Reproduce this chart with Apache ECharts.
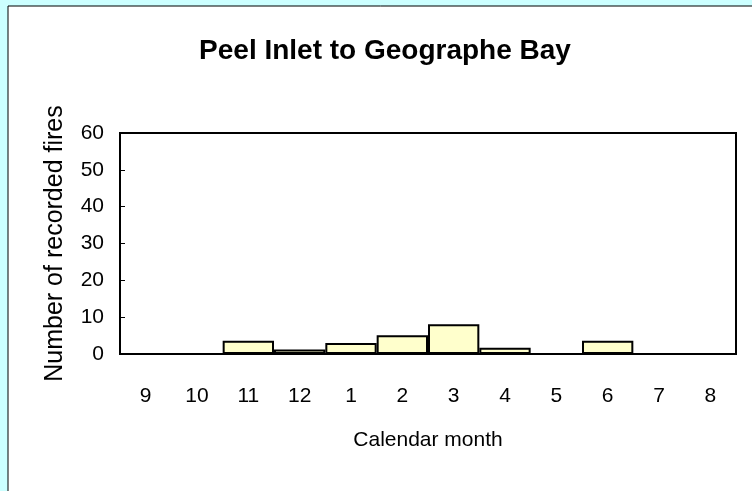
<!DOCTYPE html>
<html>
<head>
<meta charset="utf-8">
<script src="https://cdn.jsdelivr.net/npm/echarts@6/dist/echarts.min.js"></script>
<style>
html,body{margin:0;padding:0;background:#ccffff;}
#main{width:752px;height:491px;}
</style>
</head>
<body>
<div id="main"></div>
<script>
var months = ['9', '10', '11', '12', '1', '2', '3', '4', '5', '6', '7', '8']; // 月份
var fires = [0, 0, 3.6, 1.2, 3, 5.1, 8.1, 1.7, 0, 3.6, 0, 0]; // 火灾次数
var yTicks = [0, 60, 10]; // min, max, interval

var myChart = echarts.init(document.getElementById('main'));
var font = "'Liberation Sans', Arial, sans-serif";

var option = {
    backgroundColor: '#ccffff',
    animation: false,
    textStyle: {fontFamily: font},
    graphic: [{
        type: 'rect',
        z: -10,
        shape: {x: 8, y: 6, width: 800, height: 600},
        style: {fill: '#fff', stroke: '#000', lineWidth: 1}
    }],
    title: {
        text: 'Peel Inlet to Geographe Bay',
        left: 380,
        textAlign: 'center',
        top: 32,
        textStyle: {fontSize: 28, fontWeight: 'bold', color: '#000', fontFamily: font}
    },
    grid: {
        left: 120,
        right: 16,
        top: 133,
        bottom: 137,
        show: true,
        borderColor: '#000',
        borderWidth: 2,
        backgroundColor: '#fff'
    },
    xAxis: {
        type: 'category',
        data: months,
        name: 'Calendar month',
        nameLocation: 'middle',
        nameGap: 76,
        nameTextStyle: {fontSize: 21, color: '#000'},
        axisLine: {lineStyle: {color: '#000', width: 2}},
        axisTick: {length: 7, lineStyle: {color: '#000'}},
        axisLabel: {fontSize: 21, color: '#000', margin: 32}
    },
    yAxis: {
        type: 'value',
        min: yTicks[0],
        max: yTicks[1],
        interval: yTicks[2],
        name: 'Number of recorded fires',
        nameLocation: 'middle',
        nameGap: 52,
        nameMoveOverlap: false,
        nameTextStyle: {fontSize: 25, color: '#000'},
        axisLine: {show: true, lineStyle: {color: '#000', width: 2}},
        axisTick: {show: true, inside: true, length: 5, lineStyle: {color: '#000'}},
        axisLabel: {fontSize: 21, color: '#000', margin: 16},
        splitLine: {show: false}
    },
    series: [{
        type: 'bar',
        data: fires,
        barCategoryGap: 0,
        itemStyle: {color: '#ffffcc', borderColor: '#000', borderWidth: 2}
    }]
};
myChart.setOption(option, true);
</script>
</body>
</html>
